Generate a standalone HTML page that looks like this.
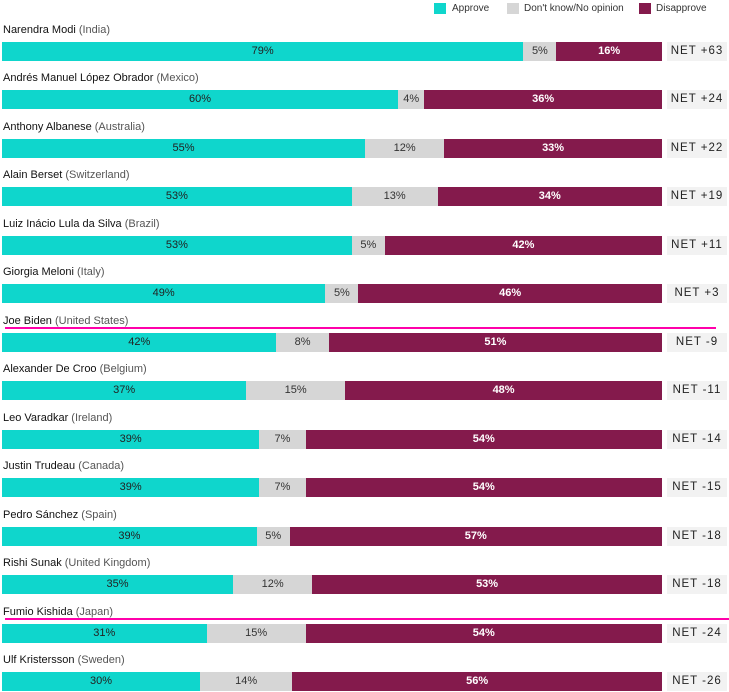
<!DOCTYPE html>
<html><head><meta charset="utf-8"><style>
body{margin:0;width:729px;height:692px;background:#fff;font-family:"Liberation Sans",sans-serif;position:relative;overflow:hidden}
.a{position:absolute}
</style></head><body>
<div class="a" style="left:0;top:0;width:729px;height:16px;font-size:10px;color:#333">
 <div class="a" style="left:434px;top:3px;width:12px;height:11px;background:#0fd6cc"></div>
 <div class="a" style="left:452px;top:3px">Approve</div>
 <div class="a" style="left:507px;top:3px;width:12px;height:11px;background:#d6d6d6"></div>
 <div class="a" style="left:524px;top:3px">Don't know/No opinion</div>
 <div class="a" style="left:639px;top:3px;width:12px;height:11px;background:#841a4c"></div>
 <div class="a" style="left:656px;top:3px">Disapprove</div>
</div>
<div id="chart"></div>
<script>
const names=["Narendra Modi","Andrés Manuel López Obrador","Anthony Albanese","Alain Berset","Luiz Inácio Lula da Silva","Giorgia Meloni","Joe Biden","Alexander De Croo","Leo Varadkar","Justin Trudeau","Pedro Sánchez","Rishi Sunak","Fumio Kishida","Ulf Kristersson"];
const countries=["India","Mexico","Australia","Switzerland","Brazil","Italy","United States","Belgium","Ireland","Canada","Spain","United Kingdom","Japan","Sweden"];
const approve=[79,60,55,53,53,49,42,37,39,39,39,35,31,30];
const dontKnow=[5,4,12,13,5,5,8,15,7,7,5,12,15,14];
const disapprove=[16,36,33,34,42,46,51,48,54,54,57,53,54,56];
const net=["+63","+24","+22","+19","+11","+3","-9","-11","-14","-15","-18","-18","-24","-26"];
const highlighted=["Joe Biden","Fumio Kishida"];
const X0=2,W=660,TOP=42,PITCH=48.46,H=19;
const c=document.getElementById('chart');
function mk(css,txt){const d=document.createElement('div');d.className='a';d.style.cssText=css;if(txt!=null)d.textContent=txt;c.appendChild(d);return d;}
names.forEach((n,i)=>{
 const y=TOP+i*PITCH;
 const total=approve[i]+dontKnow[i]+disapprove[i];
 const x=v=>v/total*W;
 const lab=mk(`left:3px;top:${y-18}px;font-size:11px;color:#222;white-space:nowrap`);
 lab.innerHTML=`<span style="color:#111">${n}</span> <span style="color:#555">(${countries[i]})</span>`;
 
 
 if(highlighted.includes(n)){
  const hl=mk(`left:5px;top:${y-6}px;width:${i==12?724:711}px;height:2px;background:#f0a`);
  
  
 }
 const segs=[[approve[i],'#0fd6cc','#222'],[dontKnow[i],'#d6d6d6','#333'],[disapprove[i],'#841a4c','#fff']];
 let acc=0;
 segs.forEach((s,k)=>{
  const b=mk(`left:${X0+x(acc)}px;top:${y}px;width:${x(s[0])}px;height:${H}px;background:${s[1]};color:${s[2]};font-size:11px;line-height:${H}px;text-align:center;${k==2?'font-weight:bold':''}`,s[0]+'%');
  
  
  acc+=s[0];
 });
 const nb=mk(`left:667px;top:${y}px;width:60px;height:${H}px;background:#f2f2f2;color:#222;font-size:11.5px;line-height:${H}px;text-align:center;letter-spacing:1px`,'NET '+net[i]);
 
 
});
</script>
</body></html>
